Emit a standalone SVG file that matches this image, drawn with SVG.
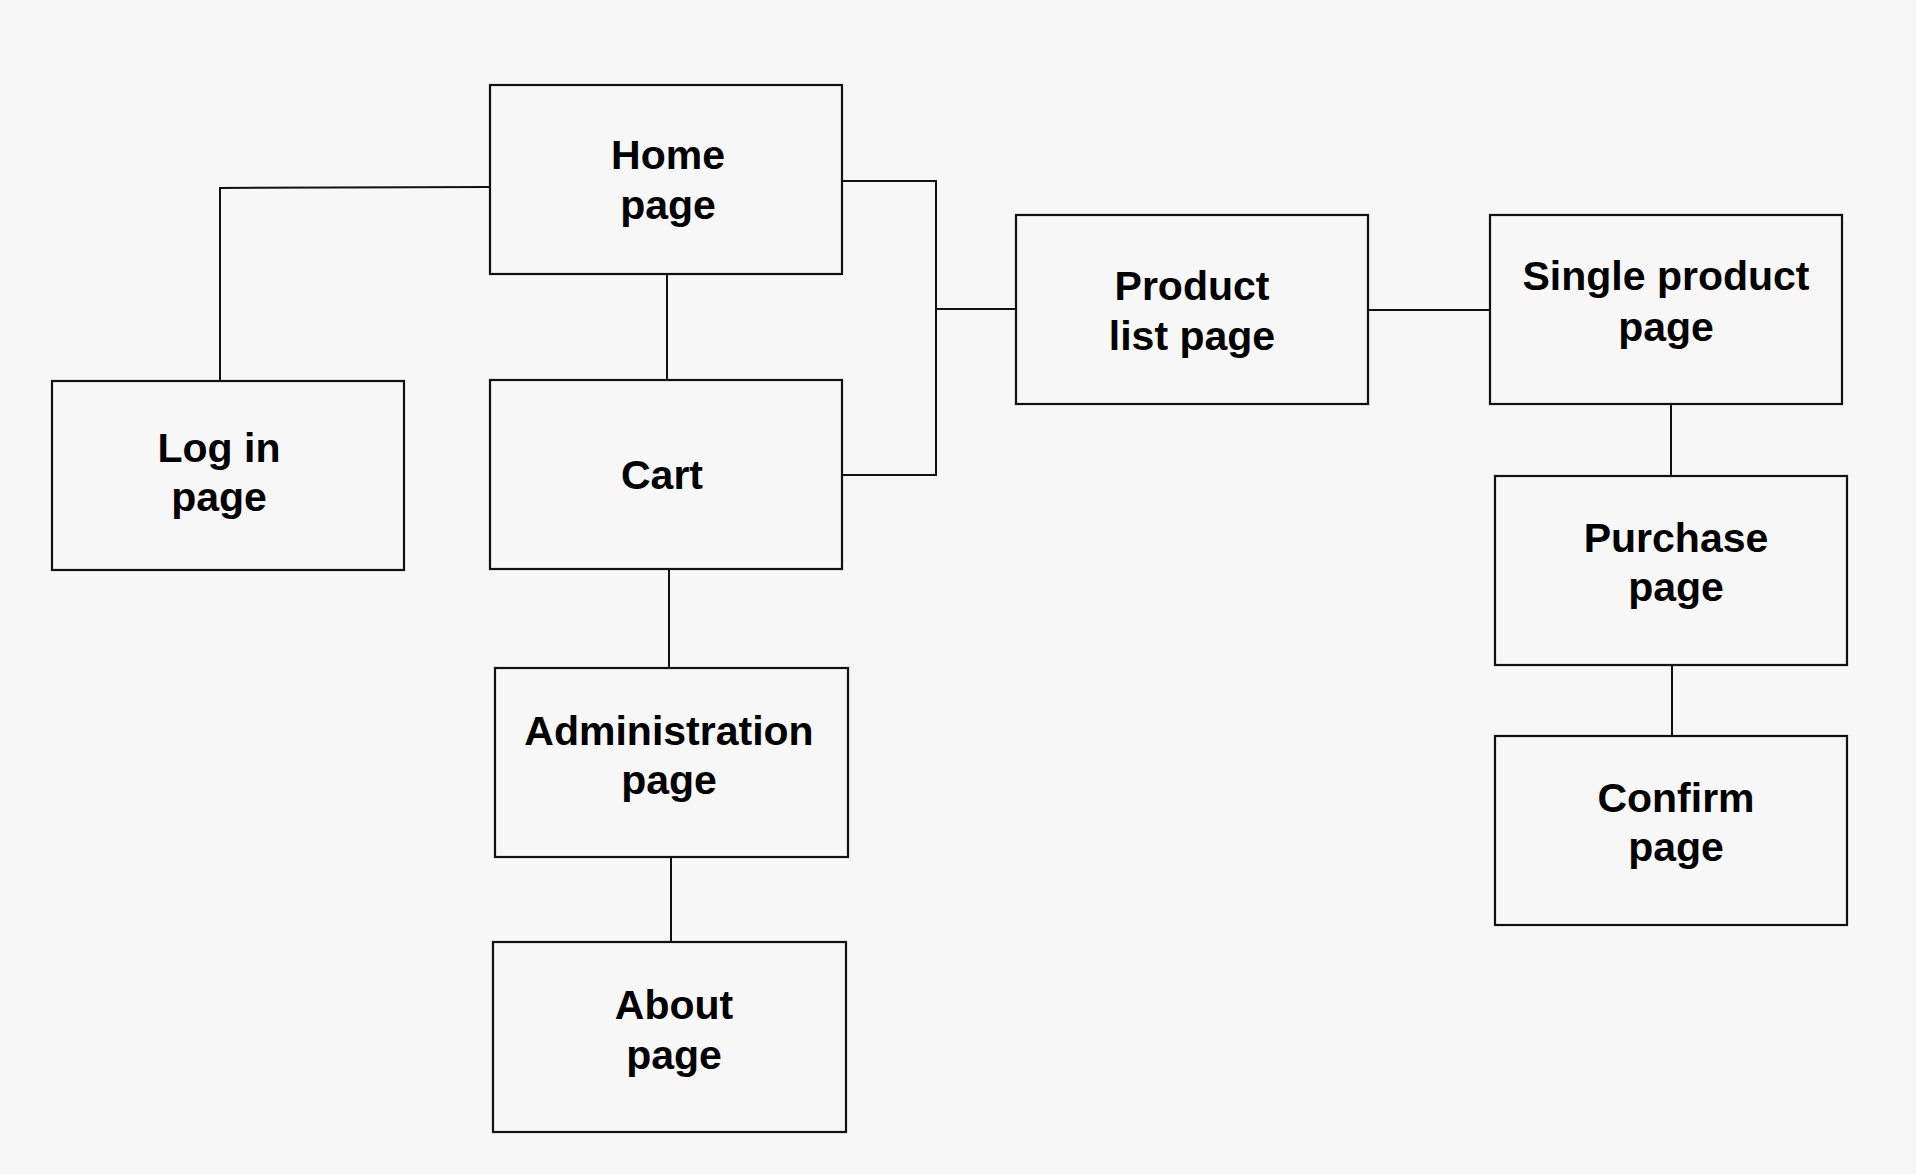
<svg xmlns="http://www.w3.org/2000/svg" width="1916" height="1174" viewBox="0 0 1916 1174">
<style>
.bx{fill:#f7f7f7;stroke:#111;stroke-width:2.2}
.ln{fill:none;stroke:#111;stroke-width:2}
.t{font-family:"Liberation Sans",Arial,sans-serif;font-weight:bold;font-size:41px;fill:#000;text-anchor:middle}
</style>
<rect width="1916" height="1174" fill="#f7f7f7"/>
<g id="connectors">
<polyline class="ln" points="490,187 220,188 220,380"/>
<line class="ln" x1="667" y1="274" x2="667" y2="380"/>
<polyline class="ln" points="842,181 936,181 936,475 842,475"/>
<line class="ln" x1="936" y1="309" x2="1016" y2="309"/>
<line class="ln" x1="1368" y1="310" x2="1490" y2="310"/>
<line class="ln" x1="1671" y1="404" x2="1671" y2="476"/>
<line class="ln" x1="1672" y1="665" x2="1672" y2="736"/>
<line class="ln" x1="669" y1="569" x2="669" y2="668"/>
<line class="ln" x1="671" y1="857" x2="671" y2="942"/>
</g>
<g id="home"><rect class="bx" x="490" y="85" width="352" height="189"/><text class="t" x="668" y="168.5">Home</text><text class="t" x="668" y="218.5">page</text></g>
<g id="login"><rect class="bx" x="52" y="381" width="352" height="189"/><text class="t" x="219" y="461.5">Log in</text><text class="t" x="219" y="510.5">page</text></g>
<g id="cart"><rect class="bx" x="490" y="380" width="352" height="189"/><text class="t" x="662" y="488.5">Cart</text></g>
<g id="productlist"><rect class="bx" x="1016" y="215" width="352" height="189"/><text class="t" x="1192" y="299.5">Product</text><text class="t" x="1192" y="349.5">list page</text></g>
<g id="singleproduct"><rect class="bx" x="1490" y="215" width="352" height="189"/><text class="t" x="1666" y="289.5">Single product</text><text class="t" x="1666" y="340.5">page</text></g>
<g id="purchase"><rect class="bx" x="1495" y="476" width="352" height="189"/><text class="t" x="1676" y="551.5">Purchase</text><text class="t" x="1676" y="600.5">page</text></g>
<g id="confirm"><rect class="bx" x="1495" y="736" width="352" height="189"/><text class="t" x="1676" y="811.5">Confirm</text><text class="t" x="1676" y="860.5">page</text></g>
<g id="admin"><rect class="bx" x="495" y="668" width="353" height="189"/><text class="t" x="669" y="744.5">Administration</text><text class="t" x="669" y="793.5">page</text></g>
<g id="about"><rect class="bx" x="493" y="942" width="353" height="190"/><text class="t" x="674" y="1018.5">About</text><text class="t" x="674" y="1068.5">page</text></g>
</svg>
